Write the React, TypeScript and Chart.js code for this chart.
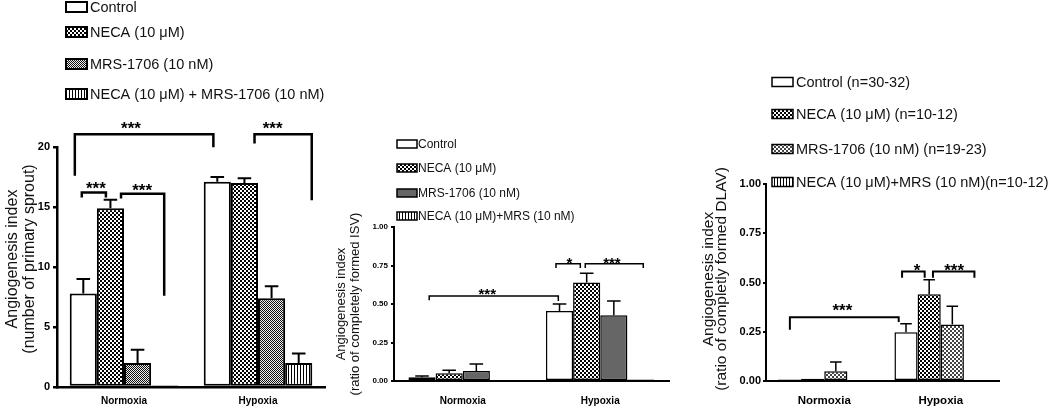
import React, { useEffect, useRef } from "react";
import { Chart, registerables } from "chart.js";
Chart.register(...registerables);

const FONT = '"Liberation Sans", Arial, Helvetica, sans-serif';
const W = 1050;
const H = 406;

const categories = ["Normoxia", "Hypoxia"];

// ---------- Panel A ----------
const labelsA = ["Control", "NECA (10 μM)", "MRS-1706 (10 nM)", "NECA (10 μM) + MRS-1706 (10 nM)"];
const controlA = [7.8, 17.1];
const necaA = [14.9, 17.0];
const mrsA = [2.0, 7.4];
const comboA = [0.15, 2.0];
const controlErrA = [1.2, 0.4];
const necaErrA = [0.7, 0.4];
const mrsErrA = [1.1, 1.0];
const comboErrA = [0, 0.8];
const yTicksA = [0, 5, 10, 15, 20];
const yTickLabelsA = ["0", "5", "10", "15", "20"];
const titleA = ["Angiogenesis index", "(number of primary sprout)"];

// ---------- Panel B ----------
const labelsB = ["Control", "NECA (10 μM)", "MRS-1706 (10 nM)", "NECA (10 μM)+MRS (10 nM)"];
const controlB = [0.024, 0.455];
const necaB = [0.05, 0.64];
const mrsB = [0.065, 0.427];
const comboB = [0.005, 0.01];
const controlErrB = [0.008, 0.045];
const necaErrB = [0.02, 0.06];
const mrsErrB = [0.045, 0.093];
const comboErrB = [0, 0];
const yTicksB = [0, 0.25, 0.5, 0.75, 1.0];
const yTickLabelsB = ["0.00", "0.25", "0.50", "0.75", "1.00"];
const titleB = ["Angiogenesis index", "(ratio of completely formed ISV)"];

// ---------- Panel C ----------
const labelsC = ["Control (n=30-32)", "NECA (10 μM) (n=10-12)", "MRS-1706 (10 nM) (n=19-23)", "NECA (10 μM)+MRS (10 nM)(n=10-12)"];
const controlC = [0.007, 0.248];
const necaC = [0.012, 0.44];
const mrsC = [0.05, 0.287];
const comboC = [0.003, 0.003];
const controlErrC = [0, 0.042];
const necaErrC = [0, 0.074];
const mrsErrC = [0.046, 0.092];
const comboErrC = [0, 0];
const yTicksC = [0, 0.25, 0.5, 0.75, 1.0];
const yTickLabelsC = ["0.00", "0.25", "0.50", "0.75", "1.00"];
const titleC = ["Angiogenesis index", "(ratio of completly formed DLAV)"];

// significance brackets: x in category units (group index + offset), y in data units
type Bracket = { x1: number; x2: number; y: number; y1: number; y2: number; tx: number; gap: number; text: string };
const bracketsA: Bracket[] = [
  { x1: -0.367, x2: 0.667, y: 21.06, y1: 17.6, y2: 19.97, tx: 0.052, gap: 10, text: "***" },
  { x1: 0.974, x2: 1.401, y: 21.06, y1: 20.3, y2: 15.56, tx: 1.109, gap: 10, text: "***" },
  { x1: -0.315, x2: -0.135, y: 16.2, y1: 15.8, y2: 15.8, tx: -0.21, gap: 8, text: "***" },
  { x1: -0.022, x2: 0.3, y: 16.1, y1: 15.7, y2: 7.6, tx: 0.135, gap: 8, text: "***" },
];
const bracketsB: Bracket[] = [
  { x1: -0.244, x2: 0.695, y: 0.552, y1: 0.524, y2: 0.52, tx: 0.178, gap: 6, text: "***" },
  { x1: 0.678, x2: 0.855, y: 0.762, y1: 0.733, y2: 0.733, tx: 0.775, gap: 4.5, text: "*" },
  { x1: 0.891, x2: 1.313, y: 0.762, y1: 0.733, y2: 0.733, tx: 1.085, gap: 4.5, text: "***" },
];
const bracketsC: Bracket[] = [
  { x1: -0.295, x2: 0.639, y: 0.324, y1: 0.26, y2: 0.299, tx: 0.156, gap: 11, text: "***" },
  { x1: 0.668, x2: 0.862, y: 0.556, y1: 0.524, y2: 0.524, tx: 0.797, gap: 5, text: "*" },
  { x1: 0.933, x2: 1.289, y: 0.556, y1: 0.524, y2: 0.524, tx: 1.115, gap: 5, text: "***" },
];

function checker(cell: number, dark: string, light: string): CanvasPattern {
  const c = document.createElement("canvas");
  c.width = cell * 2;
  c.height = cell * 2;
  const g = c.getContext("2d") as CanvasRenderingContext2D;
  g.fillStyle = light;
  g.fillRect(0, 0, cell * 2, cell * 2);
  g.fillStyle = dark;
  g.fillRect(0, 0, cell, cell);
  g.fillRect(cell, cell, cell, cell);
  return g.createPattern(c, "repeat") as CanvasPattern;
}
function stripes(period: number, line: number): CanvasPattern {
  const c = document.createElement("canvas");
  c.width = period;
  c.height = 4;
  const g = c.getContext("2d") as CanvasRenderingContext2D;
  g.fillStyle = "#fff";
  g.fillRect(0, 0, period, 4);
  g.fillStyle = "#000";
  g.fillRect(0, 0, line, 4);
  return g.createPattern(c, "repeat") as CanvasPattern;
}

type Spec = {
  series: { label: string; data: number[]; errors: number[]; fill: any }[];
  yMax: number;
  yTicks: number[];
  yTickLabels: string[];
  area: { left: number; right: number; top: number; bottom: number };
  yWidth: number;
  axisWidth: number;
  tickLength: number;
  tickPad: number;
  tickFont: number;
  xFont: number;
  xPad: number;
  barBorder: number;
  catPct: number;
  title: { lines: string[]; x: number; y: number; size: number; gap: number };
  legend: { boxX: number; boxW: number; boxH: number; textX: number; ys: number[]; size: number; lw: number };
  brackets: Bracket[];
  starSize: number;
  bracketWidth: number;
  errWidth: number;
  capRatio: number;
};

function buildChart(canvas: HTMLCanvasElement, s: Spec): Chart {
  const errorBars = {
    id: "errorBars",
    afterDatasetsDraw(chart: any) {
      const ctx = chart.ctx as CanvasRenderingContext2D;
      const ys = chart.scales.y;
      chart.data.datasets.forEach((ds: any, di: number) => {
        const meta = chart.getDatasetMeta(di);
        meta.data.forEach((bar: any, i: number) => {
          const e = ds.errors ? ds.errors[i] : 0;
          if (!e) return;
          const v = ds.data[i];
          const yTop = ys.getPixelForValue(v);
          const yE = ys.getPixelForValue(v + e);
          const half = (bar.width * s.capRatio) / 2;
          ctx.save();
          ctx.strokeStyle = "#000";
          ctx.lineWidth = s.errWidth;
          ctx.beginPath();
          ctx.moveTo(bar.x, yTop);
          ctx.lineTo(bar.x, yE);
          ctx.moveTo(bar.x - half, yE);
          ctx.lineTo(bar.x + half, yE);
          ctx.stroke();
          ctx.restore();
        });
      });
    },
  };
  const brackets = {
    id: "sigBrackets",
    afterDraw(chart: any) {
      const ctx = chart.ctx as CanvasRenderingContext2D;
      const xs = chart.scales.x;
      const ys = chart.scales.y;
      const x0 = xs.getPixelForValue(0);
      const step = xs.getPixelForValue(1) - x0;
      const px = (p: number) => x0 + p * step;
      ctx.save();
      ctx.strokeStyle = "#000";
      ctx.fillStyle = "#000";
      ctx.lineWidth = s.bracketWidth;
      ctx.lineJoin = "miter";
      for (const b of s.brackets) {
        const yy = ys.getPixelForValue(b.y);
        ctx.beginPath();
        ctx.moveTo(px(b.x1), ys.getPixelForValue(b.y1));
        ctx.lineTo(px(b.x1), yy);
        ctx.lineTo(px(b.x2), yy);
        ctx.lineTo(px(b.x2), ys.getPixelForValue(b.y2));
        ctx.stroke();
        ctx.font = `bold ${s.starSize}px ${FONT}`;
        ctx.textAlign = "center";
        ctx.textBaseline = "alphabetic";
        ctx.fillText(b.text, px(b.tx), yy - b.gap + 0.575 * s.starSize);
      }
      ctx.restore();
    },
  };
  const legendBoxes = {
    id: "legendBoxes",
    afterDraw(chart: any) {
      const ctx = chart.ctx as CanvasRenderingContext2D;
      const L = s.legend;
      ctx.save();
      chart.data.datasets.forEach((ds: any, i: number) => {
        const y = L.ys[i];
        ctx.fillStyle = ds.backgroundColor;
        ctx.fillRect(L.boxX, y - L.boxH / 2, L.boxW, L.boxH);
        ctx.strokeStyle = "#000";
        ctx.lineWidth = L.lw;
        ctx.strokeRect(L.boxX, y - L.boxH / 2, L.boxW, L.boxH);
        ctx.fillStyle = "#111";
        ctx.font = `${L.size}px ${FONT}`;
        ctx.textAlign = "left";
        ctx.textBaseline = "middle";
        ctx.fillText(ds.label, L.textX, y + 0.5);
      });
      ctx.restore();
    },
  };
  const yTitle = {
    id: "yTitle",
    afterDraw(chart: any) {
      const ctx = chart.ctx as CanvasRenderingContext2D;
      const T = s.title;
      ctx.save();
      ctx.translate(T.x, T.y);
      ctx.rotate(-Math.PI / 2);
      ctx.fillStyle = "#111";
      ctx.font = `${T.size}px ${FONT}`;
      ctx.textAlign = "center";
      ctx.textBaseline = "middle";
      T.lines.forEach((ln, i) => ctx.fillText(ln, 0, i * T.gap));
      ctx.restore();
    },
  };

  return new Chart(canvas, {
    type: "bar",
    data: {
      labels: categories,
      datasets: s.series.map((se) => ({
        label: se.label,
        data: se.data,
        errors: se.errors,
        backgroundColor: se.fill,
        borderColor: "#000",
        borderWidth: s.barBorder,
        borderSkipped: false,
        barPercentage: 1,
        categoryPercentage: s.catPct,
      })) as any,
    },
    options: {
      responsive: false,
      animation: false,
      devicePixelRatio: 1,
      events: [],
      layout: {
        padding: {
          left: s.area.left - s.yWidth,
          right: W - s.area.right,
          top: s.area.top,
          bottom: 0,
        },
      },
      plugins: {
        legend: { display: false },
        tooltip: { enabled: false },
        title: { display: false },
      },
      scales: {
        x: {
          type: "category",
          offset: true,
          afterFit: (sc: any) => {
            sc.height = H - s.area.bottom;
          },
          grid: { display: false },
          border: { display: true, color: "#000", width: s.axisWidth },
          ticks: {
            color: "#000",
            padding: s.xPad,
            font: { family: FONT, size: s.xFont, weight: "bold" },
            maxRotation: 0,
          },
        },
        y: {
          type: "linear",
          min: 0,
          max: s.yMax,
          afterFit: (sc: any) => {
            sc.width = s.yWidth;
          },
          afterBuildTicks: (sc: any) => {
            sc.ticks = s.yTicks.map((v) => ({ value: v }));
          },
          grid: {
            display: true,
            drawOnChartArea: false,
            drawTicks: true,
            tickLength: s.tickLength,
            tickWidth: s.axisWidth,
            tickColor: "#000",
            color: "#000",
            lineWidth: s.axisWidth,
          },
          border: { display: true, color: "#000", width: s.axisWidth },
          ticks: {
            color: "#000",
            padding: s.tickPad,
            font: { family: FONT, size: s.tickFont, weight: "bold" },
            callback: (_v: any, i: number) => s.yTickLabels[i],
          },
        },
      },
    } as any,
    plugins: [errorBars, brackets, legendBoxes, yTitle] as any,
  });
}

export default function App() {
  const refA = useRef<HTMLCanvasElement>(null);
  const refB = useRef<HTMLCanvasElement>(null);
  const refC = useRef<HTMLCanvasElement>(null);

  useEffect(() => {
    const white = "#ffffff";
    const specA: Spec = {
      series: [
        { label: labelsA[0], data: controlA, errors: controlErrA, fill: white },
        { label: labelsA[1], data: necaA, errors: necaErrA, fill: checker(2, "#000", "#fff") },
        { label: labelsA[2], data: mrsA, errors: mrsErrA, fill: checker(1, "#111", "#eee") },
        { label: labelsA[3], data: comboA, errors: comboErrA, fill: stripes(3, 1) },
      ],
      yMax: 20,
      yTicks: yTicksA,
      yTickLabels: yTickLabelsA,
      area: { left: 57, right: 325, top: 147, bottom: 387 },
      yWidth: 57,
      axisWidth: 2.5,
      tickLength: 4,
      tickPad: 3,
      tickFont: 11,
      xFont: 10,
      xPad: 0,
      barBorder: 2,
      catPct: 0.81,
      title: { lines: titleA, x: 13, y: 259, size: 16, gap: 17 },
      legend: { boxX: 66, boxW: 21, boxH: 10, textX: 90, ys: [7, 32, 64, 94], size: 14.5, lw: 2 },
      brackets: bracketsA,
      starSize: 17,
      bracketWidth: 2.5,
      errWidth: 2,
      capRatio: 0.5,
    };
    const specB: Spec = {
      series: [
        { label: labelsB[0], data: controlB, errors: controlErrB, fill: white },
        { label: labelsB[1], data: necaB, errors: necaErrB, fill: checker(2, "#000", "#fff") },
        { label: labelsB[2], data: mrsB, errors: mrsErrB, fill: "#666666" },
        { label: labelsB[3], data: comboB, errors: comboErrB, fill: stripes(3, 1) },
      ],
      yMax: 1,
      yTicks: yTicksB,
      yTickLabels: yTickLabelsB,
      area: { left: 394, right: 669, top: 227, bottom: 381 },
      yWidth: 64,
      axisWidth: 2,
      tickLength: 3,
      tickPad: 3,
      tickFont: 8,
      xFont: 10,
      xPad: 6,
      barBorder: 1.5,
      catPct: 0.79,
      title: { lines: titleB, x: 341, y: 304, size: 13, gap: 14 },
      legend: { boxX: 397, boxW: 20, boxH: 8, textX: 418, ys: [144, 168, 193, 216], size: 12, lw: 1.5 },
      brackets: bracketsB,
      starSize: 15,
      bracketWidth: 1.5,
      errWidth: 1.5,
      capRatio: 0.5,
    };
    const specC: Spec = {
      series: [
        { label: labelsC[0], data: controlC, errors: controlErrC, fill: white },
        { label: labelsC[1], data: necaC, errors: necaErrC, fill: checker(2, "#000", "#fff") },
        { label: labelsC[2], data: mrsC, errors: mrsErrC, fill: checker(2, "#444", "#fff") },
        { label: labelsC[3], data: comboC, errors: comboErrC, fill: stripes(3, 1) },
      ],
      yMax: 1,
      yTicks: yTicksC,
      yTickLabels: yTickLabelsC,
      area: { left: 766, right: 999, top: 184, bottom: 381 },
      yWidth: 70,
      axisWidth: 2,
      tickLength: 3,
      tickPad: 2,
      tickFont: 11,
      xFont: 11.5,
      xPad: 5,
      barBorder: 1.5,
      catPct: 0.795,
      title: { lines: titleC, x: 709, y: 279, size: 15.5, gap: 13 },
      legend: { boxX: 772, boxW: 21, boxH: 9, textX: 796, ys: [82, 114, 149, 182], size: 14.5, lw: 1.5 },
      brackets: bracketsC,
      starSize: 17,
      bracketWidth: 2,
      errWidth: 1.5,
      capRatio: 0.5,
    };
    const charts = [
      buildChart(refA.current as HTMLCanvasElement, specA),
      buildChart(refB.current as HTMLCanvasElement, specB),
      buildChart(refC.current as HTMLCanvasElement, specC),
    ];
    return () => charts.forEach((c) => c.destroy());
  }, []);

  const cs: React.CSSProperties = { position: "absolute", left: 0, top: 0, width: W, height: H };
  return (
    <div style={{ position: "fixed", left: 0, top: 0, width: W, height: H, background: "#fff", overflow: "hidden" }}>
      <canvas ref={refA} width={W} height={H} style={cs} />
      <canvas ref={refB} width={W} height={H} style={cs} />
      <canvas ref={refC} width={W} height={H} style={cs} />
    </div>
  );
}
